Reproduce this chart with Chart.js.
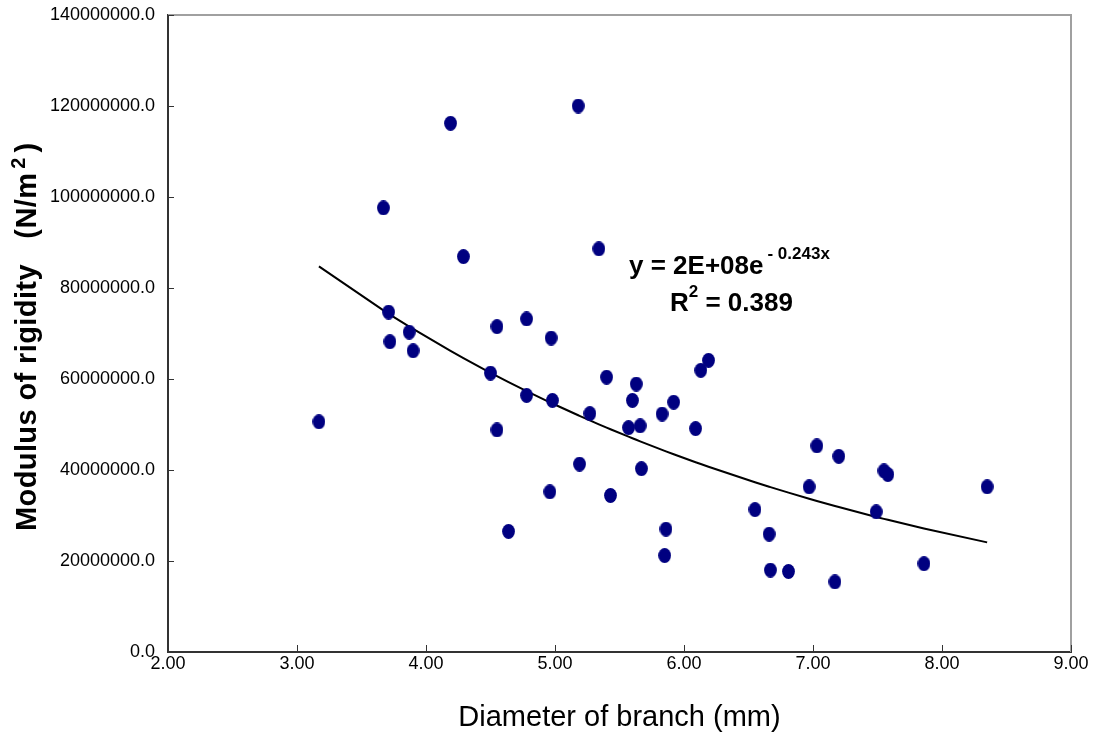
<!DOCTYPE html>
<html>
<head>
<meta charset="utf-8">
<script src="https://cdn.jsdelivr.net/npm/chart.js@4.4.1/dist/chart.umd.min.js"></script>
<style>
  html, body { margin: 0; padding: 0; background: #fff; }
  #wrap { width: 1096px; height: 740px; }
</style>
</head>
<body>
<div id="wrap"><canvas id="grafico" width="1096" height="740"></canvas></div>
<script>
// diametro do galho (mm)
const diametros = [
  3.17, 3.67, 3.71, 3.72, 3.87, 3.90, 4.19, 4.29, 4.50, 4.55, 4.55, 4.64,
  4.78, 4.78, 4.96, 4.97, 4.98, 5.18, 5.19, 5.27, 5.34, 5.40, 5.43, 5.57,
  5.60, 5.63, 5.66, 5.67, 5.83, 5.85, 5.86, 5.92, 6.09, 6.13, 6.19, 6.55,
  6.66, 6.67, 6.81, 6.97, 7.03, 7.17, 7.20, 7.49, 7.55, 7.58, 7.86, 8.35
];
// modulo de rigidez (milhoes de N/m2)
const modulos = [
  50.6, 97.6, 74.7, 68.2, 70.3, 66.2, 116.2, 86.9, 61.3, 71.5, 48.8, 26.5,
  73.2, 56.4, 35.2, 69.0, 55.3, 120.0, 41.3, 52.4, 88.6, 60.4, 34.4, 49.3,
  55.3, 58.9, 49.7, 40.3, 52.3, 21.2, 27.0, 54.9, 49.1, 61.9, 64.1, 31.3,
  25.9, 18.0, 17.7, 36.3, 45.3, 15.4, 43.0, 30.8, 39.8, 39.0, 19.4, 36.3
];
const ticksX = [2, 3, 4, 5, 6, 7, 8, 9];
const ticksY = [0, 20000000, 40000000, 60000000, 80000000, 100000000, 120000000, 140000000];
const equacao = "y = 2E+08e";
const expoente = "- 0.243x";
const rQuadrado = " = 0.389";

const FONTE = "'Liberation Sans', Arial, sans-serif";

const pontos = diametros.map((d, i) => ({ x: d, y: modulos[i] * 1e6 }));

// ajuste exponencial (minimos quadrados em ln y), como a linha de tendencia do Excel
function ajusteExponencial(xs, ys) {
  const n = xs.length;
  let sx = 0, sy = 0, sxx = 0, sxy = 0;
  for (let i = 0; i < n; i++) {
    const ly = Math.log(ys[i]);
    sx += xs[i]; sy += ly; sxx += xs[i] * xs[i]; sxy += xs[i] * ly;
  }
  const b = (n * sxy - sx * sy) / (n * sxx - sx * sx);
  const a = (sy - b * sx) / n;
  return { A: Math.exp(a), b: b };
}
const ajuste = ajusteExponencial(diametros, pontos.map(p => p.y));
const tendencia = [...diametros].sort((a, b) => a - b)
  .map(d => ({ x: d, y: ajuste.A * Math.exp(ajuste.b * d) }));

function criarElipse() {
  const c = document.createElement('canvas');
  c.width = 13; c.height = 15;
  const g = c.getContext('2d');
  g.fillStyle = '#000080';
  g.beginPath();
  g.ellipse(6.5, 7.5, 6.4, 7.4, 0, 0, Math.PI * 2);
  g.fill();
  return c;
}

const molduraPlugin = {
  id: 'moldura',
  afterDraw(chart) {
    const { ctx, chartArea: a, scales } = chart;
    ctx.save();
    // borda superior e direita
    ctx.strokeStyle = '#a0a0a0';
    ctx.lineWidth = 2;
    ctx.beginPath();
    ctx.moveTo(a.left, a.top);
    ctx.lineTo(a.right, a.top);
    ctx.lineTo(a.right, a.bottom);
    ctx.stroke();
    // marcas internas
    ctx.strokeStyle = '#333';
    ctx.lineWidth = 1;
    ctx.beginPath();
    ticksX.forEach(v => {
      const px = Math.round(scales.x.getPixelForValue(v)) + 0.5;
      ctx.moveTo(px, a.bottom);
      ctx.lineTo(px, a.bottom - 7);
    });
    ticksY.forEach(v => {
      const py = Math.round(scales.y.getPixelForValue(v)) + 0.5;
      ctx.moveTo(a.left, py);
      ctx.lineTo(a.left + 6, py);
    });
    ctx.stroke();

    ctx.fillStyle = '#000';
    // titulo do eixo x
    ctx.font = "29px " + FONTE;
    ctx.textAlign = 'center';
    ctx.textBaseline = 'middle';
    ctx.fillText('Diameter of branch (mm)', (a.left + a.right) / 2, 718);

    // titulo do eixo y (rotacionado, com sobrescrito)
    ctx.save();
    ctx.translate(36, 531);
    ctx.rotate(-Math.PI / 2);
    ctx.textAlign = 'left';
    ctx.textBaseline = 'alphabetic';
    ctx.font = "bold 29px " + FONTE;
    ctx.letterSpacing = '0.4px';
    const t1 = 'Modulus of rigidity   (N/m';
    ctx.fillText(t1, 0, 0);
    let w = ctx.measureText(t1).width + 4;
    ctx.letterSpacing = '0px';
    ctx.font = "bold 20px " + FONTE;
    ctx.fillText('2', w, -11);
    w += ctx.measureText('2').width + 5;
    ctx.font = "bold 29px " + FONTE;
    ctx.fillText(')', w, 0);
    ctx.restore();

    // equacao da tendencia
    ctx.textAlign = 'left';
    ctx.textBaseline = 'alphabetic';
    ctx.font = "bold 26px " + FONTE;
    ctx.fillText(equacao, 629, 274);
    const we = ctx.measureText(equacao).width;
    ctx.font = "bold 17px " + FONTE;
    ctx.fillText(expoente, 629 + we + 4, 259);
    ctx.font = "bold 26px " + FONTE;
    ctx.fillText('R', 670, 311);
    const wr = ctx.measureText('R').width;
    ctx.font = "bold 17px " + FONTE;
    ctx.fillText('2', 670 + wr, 297);
    const w2 = ctx.measureText('2').width;
    ctx.font = "bold 26px " + FONTE;
    ctx.fillText(rQuadrado, 670 + wr + w2, 311);
    ctx.restore();
  }
};

new Chart(document.getElementById('grafico'), {
  type: 'scatter',
  data: {
    datasets: [
      {
        type: 'line',
        label: 'Tendencia',
        data: tendencia,
        borderColor: '#000',
        borderWidth: 2,
        pointRadius: 0,
        fill: false,
        tension: 0,
        order: 2
      },
      {
        label: 'Modulo de rigidez',
        data: pontos,
        pointStyle: criarElipse(),
        pointRadius: 7,
        order: 1
      }
    ]
  },
  options: {
    responsive: false,
    animation: false,
    layout: { padding: { top: 15, right: 25, left: 0, bottom: 0 } },
    plugins: {
      legend: { display: false },
      tooltip: { enabled: false }
    },
    scales: {
      x: {
        type: 'linear',
        min: 2,
        max: 9,
        afterBuildTicks: s => { s.ticks = ticksX.map(v => ({ value: v })); },
        afterFit: s => { s.height = 88; s.paddingLeft = 0; s.paddingRight = 0; },
        grid: { display: false, drawTicks: false },
        border: { color: '#333', width: 2 },
        ticks: {
          color: '#000',
          padding: 1,
          font: { family: FONTE, size: 18 },
          callback: v => v.toFixed(2)
        }
      },
      y: {
        type: 'linear',
        min: 0,
        max: 140000000,
        afterBuildTicks: s => { s.ticks = ticksY.map(v => ({ value: v })); },
        afterFit: s => { s.width = 168; s.paddingTop = 0; s.paddingBottom = 0; },
        grid: { display: false, drawTicks: false },
        border: { color: '#333', width: 2 },
        ticks: {
          color: '#000',
          padding: 13,
          font: { family: FONTE, size: 18 },
          callback: v => v.toFixed(1)
        }
      }
    }
  },
  plugins: [molduraPlugin]
});
</script>
</body>
</html>
